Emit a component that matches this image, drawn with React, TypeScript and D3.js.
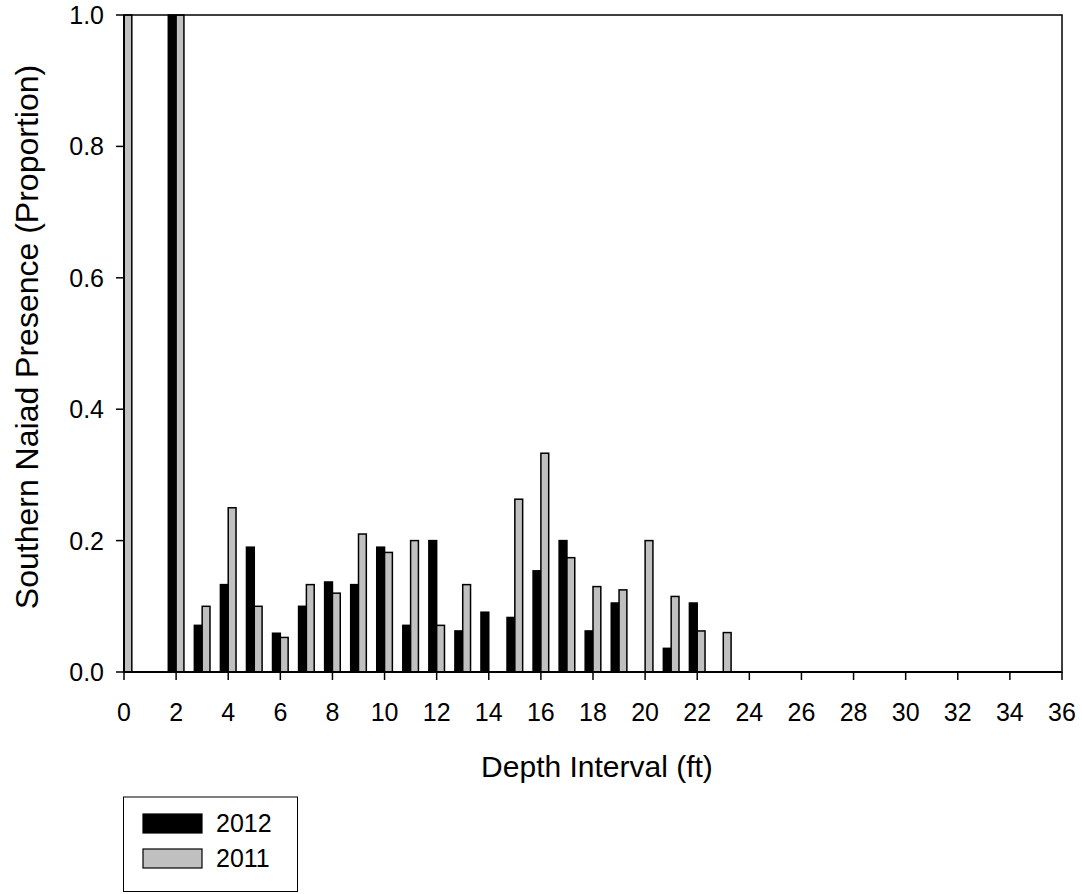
import React from "react";
import * as d3 from "d3";

const depths = [0, 1, 2, 3, 4, 5, 6, 7, 8, 9, 10, 11, 12, 13, 14, 15, 16, 17, 18, 19, 20, 21, 22, 23];
const values2012 = [0, 0, 1.0, 0.071, 0.133, 0.19, 0.059, 0.1, 0.137, 0.133, 0.19, 0.071, 0.2, 0.0625, 0.091, 0.083, 0.154, 0.2, 0.0625, 0.105, 0, 0.036, 0.105, 0];
const values2011 = [1.0, 0, 1.0, 0.1, 0.25, 0.1, 0.0526, 0.133, 0.12, 0.21, 0.182, 0.2, 0.071, 0.133, 0, 0.263, 0.333, 0.174, 0.13, 0.125, 0.2, 0.115, 0.0625, 0.06];
const xTicks = d3.range(0, 37, 2);
const yTicks = [0, 0.2, 0.4, 0.6, 0.8, 1.0];
const seriesNames = ["2012", "2011"];
const seriesColors = ["#000000", "#c0c0c0"];

export default function App() {
  const W = 1082, H = 894;
  const left = 124, right = 1062, top = 15, bottom = 672;
  const x = d3.scaleLinear().domain([0, 36]).range([left, right]);
  const y = d3.scaleLinear().domain([0, 1]).range([bottom, top]);
  const bw = x(0.3) - x(0);
  const font = "'Liberation Sans', Arial, sans-serif";

  return (
    <svg width={W} height={H} style={{ position: "absolute", left: 0, top: 0, background: "#fff" }} fontFamily={font}>
      <defs>
        <clipPath id="plot">
          <rect x={left} y={top - 2} width={right - left} height={bottom - top + 2} />
        </clipPath>
      </defs>
      <g clipPath="url(#plot)">
        {depths.map((d, i) =>
          values2012[i] > 0 ? (
            <rect key={"a" + d} x={x(d) - bw} y={y(values2012[i])} width={bw} height={y(0) - y(values2012[i])}
              fill={seriesColors[0]} stroke="#000" strokeWidth={1.5} />
          ) : null
        )}
        {depths.map((d, i) =>
          values2011[i] > 0 ? (
            <rect key={"b" + d} x={x(d)} y={y(values2011[i])} width={bw} height={y(0) - y(values2011[i])}
              fill={seriesColors[1]} stroke="#000" strokeWidth={1.5} />
          ) : null
        )}
      </g>
      <rect x={left} y={top} width={right - left} height={bottom - top} fill="none" stroke="#000" strokeWidth={1.5} />
      <line x1={left} x2={left} y1={top} y2={bottom} stroke="#000" strokeWidth={2} />
      <line x1={left} x2={right} y1={bottom} y2={bottom} stroke="#000" strokeWidth={2} />
      {xTicks.map((t) => (
        <g key={"x" + t}>
          <line x1={x(t)} x2={x(t)} y1={bottom} y2={bottom + 8} stroke="#000" strokeWidth={1.5} />
          <text x={x(t)} y={721} fontSize={25} textAnchor="middle" fill="#000">{t}</text>
        </g>
      ))}
      {yTicks.map((t) => (
        <g key={"y" + t}>
          <line x1={left - 8} x2={left} y1={y(t)} y2={y(t)} stroke="#000" strokeWidth={1.5} />
          <text x={104} y={y(t) + 9} fontSize={25} textAnchor="end" fill="#000">{t.toFixed(1)}</text>
        </g>
      ))}
      <text x={597} y={777} fontSize={30} textAnchor="middle" fill="#000">Depth Interval (ft)</text>
      <text transform={`translate(38,${337}) rotate(-90)`} fontSize={32} textAnchor="middle" fill="#000">
        Southern Naiad Presence (Proportion)
      </text>
      <rect x={123.5} y={797} width={174} height={94.5} fill="#fff" stroke="#000" strokeWidth={1} />
      {seriesNames.map((s, i) => (
        <g key={s}>
          <rect x={143} y={814 + i * 35} width={59} height={19} fill={seriesColors[i]} stroke="#000" strokeWidth={1.2} />
          <text x={216} y={832 + i * 35} fontSize={25} fill="#000">{s}</text>
        </g>
      ))}
    </svg>
  );
}
